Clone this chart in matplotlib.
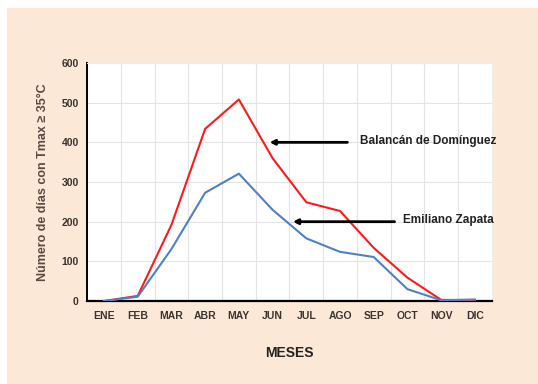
import numpy as np
import matplotlib.pyplot as plt
from matplotlib.patches import Rectangle

# -------------------- DATA --------------------
meses = ["ENE", "FEB", "MAR", "ABR", "MAY", "JUN", "JUL", "AGO", "SEP", "OCT", "NOV", "DIC"]
balancan = [0, 13, 192, 434, 508, 360, 249, 227, 134, 59, 3, 2]
zapata = [0, 11, 131, 273, 321, 230, 158, 124, 111, 30, 2, 4]
y_ticks = [0, 100, 200, 300, 400, 500, 600]

# -------------------- STYLE --------------------
plt.rcParams.update({
    "font.family": ["Liberation Sans", "DejaVu Sans"],
    "font.size": 8,
})
txt_col = "#3b3330"

fig = plt.figure(figsize=(5.38, 3.84), dpi=100)
fig.patch.set_facecolor("white")
# peach panel behind everything
fig.patches.append(Rectangle((7 / 538, 0), 1, 1 - 8 / 384, transform=fig.transFigure,
                             facecolor="#FCE8D6", edgecolor="none", zorder=-10))

ax = fig.add_axes([0.162, 0.216, 0.752, 0.620])
ax.set_facecolor("white")

x = np.arange(len(meses))
ax.plot(x, balancan, color="#FF1A1A", lw=1.5, zorder=3)
ax.plot(x, zapata, color="#4F81C4", lw=1.5, zorder=3)

ax.set_xlim(-0.5, len(meses) - 0.5)
ax.set_ylim(0, 600)
ax.set_yticks(y_ticks)
ax.set_xticks(x)
ax.set_xticklabels(meses)

# gridlines: vertical between categories, horizontal every 100
ax.set_xticks(np.arange(0.5, len(meses) - 0.5), minor=True)
ax.grid(which="minor", axis="x", color="#e4e4e4", lw=0.8)
ax.grid(which="major", axis="y", color="#e4e4e4", lw=0.8)
ax.set_axisbelow(True)

ax.tick_params(which="both", length=0)
ax.tick_params(axis="x", pad=7, labelsize=7.5, labelcolor=txt_col)
ax.tick_params(axis="y", pad=6, labelsize=7.5, labelcolor=txt_col)
for lab in ax.get_xticklabels() + ax.get_yticklabels():
    lab.set_fontweight("bold")

for s in ["top", "right"]:
    ax.spines[s].set_color("#eeeeee")
    ax.spines[s].set_linewidth(0.8)
ax.spines["left"].set_linewidth(1.4)
ax.spines["bottom"].set_linewidth(1.6)

ax.set_ylabel("Número de días con Tmax ≥ 35°C", fontsize=9, color="#5a4a42",
              fontweight="semibold", labelpad=9)
ax.set_xlabel("MESES", fontsize=10, fontweight="bold", color="#222222", labelpad=18)

# -------------------- ANNOTATIONS --------------------
arrow_kw = dict(arrowstyle="-|>,head_length=0.35,head_width=0.18", color="black", lw=2)
ax.annotate("", xy=(4.83, 400), xytext=(7.3, 400), arrowprops=arrow_kw)
ax.text(7.6, 404, "Balancán de Domínguez", fontsize=8.5, fontweight="bold",
        color="#222222", va="center", ha="left")
ax.annotate("", xy=(5.52, 200), xytext=(8.7, 200), arrowprops=arrow_kw)
ax.text(8.88, 204, "Emiliano Zapata", fontsize=8.5, fontweight="bold",
        color="#222222", va="center", ha="left")

plt.savefig("out.png", dpi=100)
